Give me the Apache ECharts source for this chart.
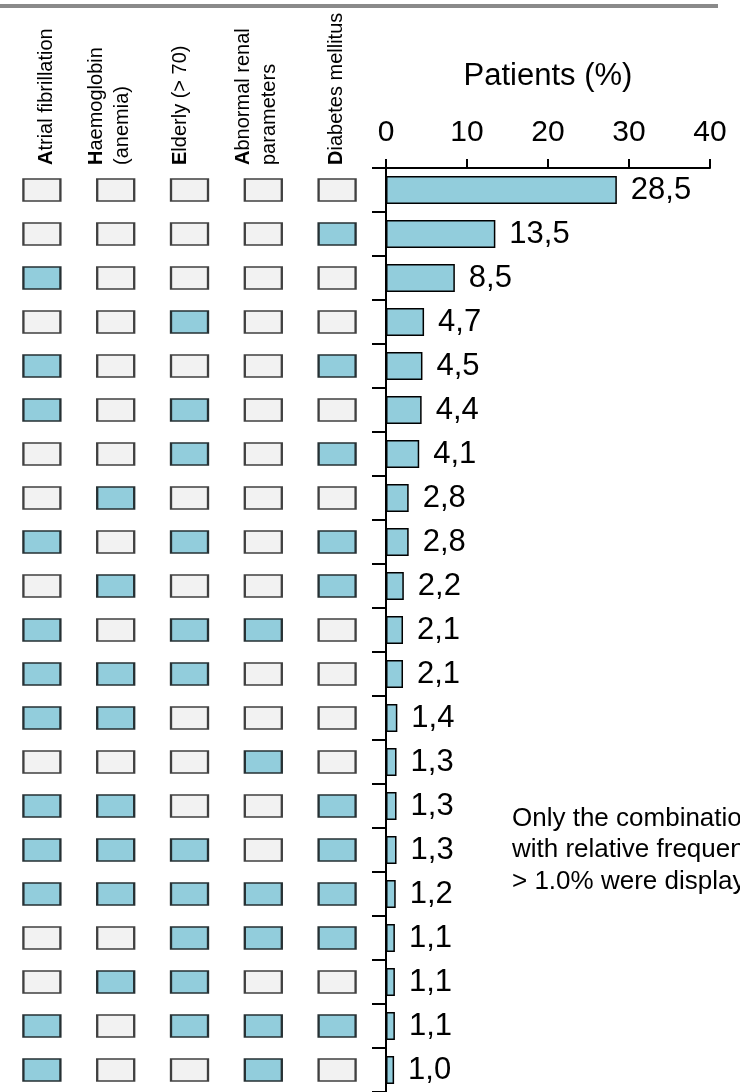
<!DOCTYPE html>
<html>
<head>
<meta charset="utf-8">
<script src="https://cdn.jsdelivr.net/npm/echarts@6/dist/echarts.min.js"></script>
<style>
  html, body { margin: 0; padding: 0; background: #ffffff; }
  #chart { width: 740px; height: 1092px; }
</style>
</head>
<body>
<div id="chart"></div>
<script>
// Risk factors (column headers of the combination matrix)
const factors = [
  'Atrial fibrillation',
  'Haemoglobin\n(anemia)',
  'Elderly (> 70)',
  'Abnormal renal\nparameters',
  'Diabetes mellitus'
];

// Presence (1) / absence (0) of each factor, one row per combination
const combos = [
  [0, 0, 0, 0, 0],
  [0, 0, 0, 0, 1],
  [1, 0, 0, 0, 0],
  [0, 0, 1, 0, 0],
  [1, 0, 0, 0, 1],
  [1, 0, 1, 0, 0],
  [0, 0, 1, 0, 1],
  [0, 1, 0, 0, 0],
  [1, 0, 1, 0, 1],
  [0, 1, 0, 0, 1],
  [1, 0, 1, 1, 0],
  [1, 1, 1, 0, 0],
  [1, 1, 0, 0, 0],
  [0, 0, 0, 1, 0],
  [1, 1, 0, 0, 1],
  [1, 1, 1, 0, 1],
  [1, 1, 1, 1, 1],
  [0, 0, 1, 1, 1],
  [0, 1, 1, 0, 0],
  [1, 0, 1, 1, 1],
  [1, 0, 0, 1, 0]
];

// Share of patients with each combination (%)
const patientsPct = [28.5, 13.5, 8.5, 4.7, 4.5, 4.4, 4.1, 2.8, 2.8, 2.2, 2.1, 2.1, 1.4, 1.3, 1.3, 1.3, 1.2, 1.1, 1.1, 1.1, 1.0];

// Percentage axis ticks
const pctMin = 0, pctMax = 40, pctStep = 10;

const rowNames = combos.map((c, i) => 'Combination ' + (i + 1));

const FONT = "'Liberation Sans', Arial, Helvetica, sans-serif";
const BLUE = '#92cddc';
const GREY = '#f2f2f2';

// Sideways nudge (px, positive = right) of each rotated column header
const headerNudge = [5, -6, -9, -7, -1];

const headerData = factors.map((name, i) => {
  const s = headerNudge[i];
  return {
    value: name,
    textStyle: { padding: s >= 0 ? [2 * s, 0, 0, 0] : [0, 0, -2 * s, 0] }
  };
});

const matrixData = [];
combos.forEach((row, i) => {
  row.forEach((flag, j) => {
    matrixData.push({
      value: [j, i],
      itemStyle: {
        color: flag ? BLUE : GREY,
        borderColor: flag ? '#263033' : '#404040',
        borderWidth: 1.8,
        opacity: 1
      }
    });
  });
});

const chart = echarts.init(document.getElementById('chart'), null, { renderer: 'canvas' });

chart.setOption({
  animation: false,
  backgroundColor: '#ffffff',
  textStyle: { fontFamily: FONT },
  grid: [
    { left: 386, width: 324, top: 168, height: 927, containLabel: false },
    { left: 5, width: 369, top: 168, height: 927, containLabel: false }
  ],
  xAxis: [
    {
      type: 'value',
      gridIndex: 0,
      position: 'top',
      min: pctMin,
      max: pctMax,
      interval: pctStep,
      name: 'Patients (%)',
      nameLocation: 'middle',
      nameGap: 76,
      nameTextStyle: { fontSize: 31, color: '#000', fontFamily: FONT },
      axisLine: { show: true, lineStyle: { color: '#000', width: 2 } },
      axisTick: { show: true, length: 9, lineStyle: { color: '#000', width: 2 } },
      axisLabel: { fontSize: 30, color: '#000', margin: 20, fontFamily: FONT },
      splitLine: { show: false }
    },
    {
      type: 'category',
      gridIndex: 1,
      position: 'top',
      data: headerData,
      axisLine: { show: false },
      axisTick: { show: false },
      axisLabel: {
        interval: 0,
        rotate: -90,
        margin: 3,
        color: '#000',
        fontSize: 20,
        lineHeight: 26,
        fontFamily: FONT,
        formatter: (v) => '{b|' + v.charAt(0) + '}' + v.slice(1),
        rich: {
          b: { fontWeight: 'bold', fontSize: 20, lineHeight: 26, color: '#000', fontFamily: FONT }
        }
      }
    }
  ],
  yAxis: [
    {
      type: 'category',
      gridIndex: 0,
      inverse: true,
      data: rowNames,
      axisLine: { show: true, lineStyle: { color: '#000', width: 2 } },
      axisTick: { show: true, length: 14, lineStyle: { color: '#000', width: 2 } },
      axisLabel: { show: false }
    },
    {
      type: 'category',
      gridIndex: 1,
      inverse: true,
      data: rowNames,
      axisLine: { show: false },
      axisTick: { show: false },
      axisLabel: { show: false }
    }
  ],
  series: [
    {
      type: 'bar',
      xAxisIndex: 0,
      yAxisIndex: 0,
      data: patientsPct,
      barWidth: 28,
      itemStyle: { color: BLUE, borderColor: '#000', borderWidth: 1.5 },
      label: {
        show: true,
        position: 'right',
        distance: 14,
        fontSize: 31,
        color: '#000',
        fontFamily: FONT,
        formatter: (p) => p.value.toFixed(1).replace('.', ',')
      }
    },
    {
      type: 'scatter',
      xAxisIndex: 1,
      yAxisIndex: 1,
      symbol: 'rect',
      symbolSize: [37, 22],
      data: matrixData,
      silent: true
    }
  ],
  graphic: [
    {
      type: 'rect',
      shape: { x: 0, y: 4, width: 718, height: 4 },
      style: { fill: '#8a8a8a' },
      z: 10
    },
    {
      type: 'text',
      left: 512,
      top: 803,
      style: {
        text: 'Only the combinations\nwith relative frequencies\n> 1.0% were displayed',
        font: '26px ' + FONT,
        lineHeight: 31.5,
        fill: '#000'
      }
    }
  ]
});
</script>
</body>
</html>
